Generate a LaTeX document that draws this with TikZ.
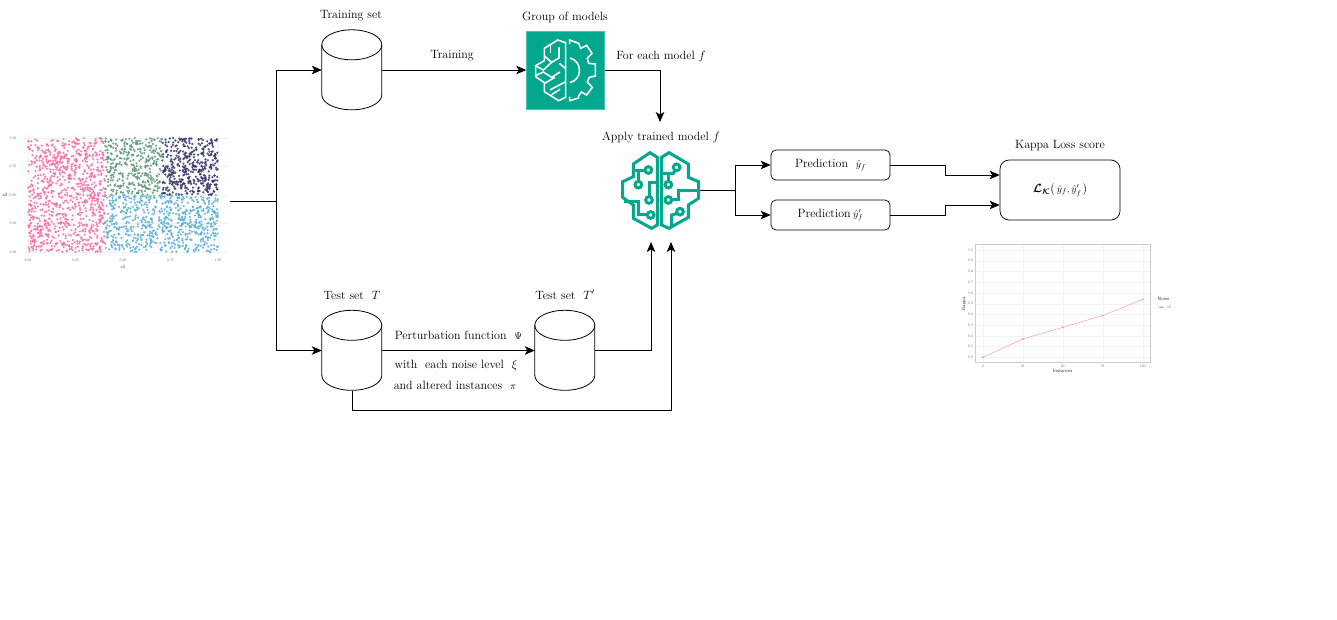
\documentclass[tikz,border=0pt]{standalone}
\usepackage{amsmath,amssymb}
\usetikzlibrary{arrows.meta,calc}
\definecolor{awsgreen}{HTML}{01A88D}
\definecolor{spink}{HTML}{F96FA8}
\definecolor{sgreen}{HTML}{5F9B7A}
\definecolor{snavy}{HTML}{34356A}
\definecolor{sblue}{HTML}{5DB0D6}
\definecolor{gridc}{HTML}{F2F2F2}
\definecolor{tickc}{HTML}{777777}
\definecolor{salmon}{HTML}{F8A199}
\newcommand{\smallm}[1]{{\fontsize{9.6}{11}\selectfont$#1$}}
\tikzset{
  lbl/.style={font=\fontsize{12}{14}\selectfont,inner sep=0pt},
  conn/.style={line width=0.8pt,-{Stealth[length=10pt,width=8.5pt,inset=2.5pt]}},
  plainconn/.style={line width=0.8pt},
  cylbox/.style={rectangle,minimum width=60pt,minimum height=80pt,inner sep=0pt},
  ghost/.style={rectangle,inner sep=0pt},
  rbox/.style={draw,rounded corners=5pt,line width=0.7pt,inner sep=0pt,font=\fontsize{12}{14}\selectfont},
  tick/.style={font=\sffamily\fontsize{3.6}{4}\selectfont,text=tickc,inner sep=0pt},
  axt/.style={font=\sffamily\fontsize{4.8}{5}\selectfont,text=black!75,inner sep=0pt},
  brainw/.style={draw=white,line width=1.6pt,line join=miter},
  braint/.style={draw=awsgreen,line width=3pt,line join=miter},
}
\newcommand{\cylbody}[1]{%
  \draw[line width=0.8pt,fill=white] (#1.north west) ++(0,15) arc[start angle=180,end angle=360,x radius=30,y radius=15] -- ++(0,50) arc[start angle=0,end angle=180,x radius=30,y radius=15] -- cycle;
  \draw[line width=0.8pt] (#1.north west) ++(0,15) arc[start angle=180,end angle=0,x radius=30,y radius=15];}
\begin{document}
\begin{tikzpicture}[x=1pt,y=-1pt]
\useasboundingbox[fill=white] (0,0) rectangle (1337,619);
% ---------- scatter plot
\foreach \g in {138,166.5,195,223.5,252} \draw[gridc,line width=0.3pt] (22,\g) -- (228,\g);
\foreach \g in {28,75.5,123,170.5,218} \draw[gridc,line width=0.3pt] (\g,134) -- (\g,256);
\pgfmathsetseed{4711}
\foreach \i in {1,...,2400}{
  \pgfmathsetmacro{\rx}{rnd}
  \pgfmathsetmacro{\ry}{rnd}
  \pgfmathparse{\rx<0.405?1:(\ry<0.5?2:(\rx<0.705?3:4))}
  \pgfmathtruncatemacro{\cls}{\pgfmathresult}
  \ifcase\cls\or\def\cc{spink}\or\def\cc{sblue}\or\def\cc{sgreen}\or\def\cc{snavy}\fi
  \fill[\cc,opacity=0.85] ({28+190*\rx},{252-114*\ry}) circle[radius=1.25];
}
\foreach \v/\g in {1.00/138,0.75/166.5,0.50/195,0.25/223.5,0.00/252} \node[tick] at (13,\g) {\v};
\foreach \v/\g in {0.00/28,0.25/75.5,0.50/123,0.75/170.5,1.00/218} \node[tick] at (\g,260) {\v};
\node[axt] at (123,267) {x1};
\node[axt] at (5,195) {x2};
\node[ghost,minimum width=226pt,minimum height=134pt] (scatter) at (117,201) {};
% ---------- nodes
\node[cylbox] (train) at (352,70) {};
\node[cylbox] (testT) at (352,350.5) {};
\node[cylbox] (testP) at (565,350.5) {};
\node[ghost,fill=awsgreen,draw=awsgreen!70!white,line width=0.5pt,minimum width=78pt,minimum height=78pt] (models) at (565.5,70) {};
\node[ghost,minimum width=76pt,minimum height=76pt] (applied) at (660,190) {};
\node[rbox,minimum width=119pt,minimum height=30pt] (pred1) at (830.5,165) {\raisebox{-1.5pt}{Prediction\ \ \smallm{\hat y_f}}\hspace{2pt}};
\node[rbox,minimum width=119pt,minimum height=30pt] (pred2) at (830.5,215) {\raisebox{-1pt}{Prediction\hspace{2.5pt}\smallm{\hat y'_f}}\hspace{5pt}};
\node[rbox,rounded corners=9pt,minimum width=120pt,minimum height=60pt] (loss) at (1060,190) {$\boldsymbol{\mathcal{L}}_{\boldsymbol{\mathcal{K}}}($\hspace{2pt}\smallm{\hat y_f,\hat y'_f}\hspace{1pt}$)$};
\cylbody{train}
\cylbody{testT}
\cylbody{testP}
% ---------- labels
\node[lbl] (l1) at (351,16) {Training set};
\node[lbl] (l2) at (565,17) {Group of models};
\node[lbl] (l3) at (452,56) {Training};
\node[lbl] (l4) at (661,56) {For each model $f$};
\node[lbl] (l5) at (661,137) {Apply trained model $f$};
\node[lbl] (l6) at (1060,146) {Kappa Loss score};
\node[lbl] (l7) at (352,295) {Test set\ \ $T$};
\node[lbl] (l8) at (565,295) {Test set\ \ $T'$};
\node[lbl] (l9) at (458.5,335) {Perturbation function\ \ \smallm{\Psi}};
\node[lbl] (l10) at (456,365) {with\ \ each noise level\ \ $\xi$};
\node[lbl] (l11) at (455,385) {and altered instances\ \ \smallm{\pi}};
% ---------- connectors
\coordinate (split) at (276,201);
\coordinate (into) at (660,122);
\coordinate (inA) at (651,242);
\coordinate (inB) at (671,242);
\coordinate (fork) at (735,190);
\coordinate (under) at (352,410);
\draw[plainconn] (scatter.east) -- (split);
\draw[conn] (split) |- (train.west);
\draw[conn] (split) |- (testT.west);
\draw[conn] (train.east) -- (models.west);
\draw[conn] (models.east) -| (into);
\draw[conn] (testT.east) -- (testP.west);
\draw[conn] (testP.east) -| (inA);
\draw[conn] (testT.south) -- (under) -| (inB);
\draw[plainconn] (applied.east) -- (fork);
\draw[conn] (fork) |- (pred1.west);
\draw[conn] (fork) |- (pred2.west);
\draw[conn] (pred1.east) -- ++(55,0) |- ($(loss.west)+(0,-15)$);
\draw[conn] (pred2.east) -- ++(55,0) |- ($(loss.west)+(0,15)$);
% ---------- brain + gear icon
\begin{scope}[shift={(510,20)},x=0.3333pt,y=-0.3333pt]
\draw[brainw] (167,68) -- (143,60) -- (103,85) -- (103,122) -- (77,137) -- (77,170) -- (103,188) -- (103,215) -- (146,242) -- (167,232) -- cycle;
\draw[brainw] (122,76) -- (122,100);
\draw[brainw] (147,82) -- (147,114) -- (125,127) -- (103,108);
\draw[brainw] (78,138) -- (100,150) -- (125,127);
\draw[brainw] (78,166) -- (100,156) -- (125,172) -- (150,156);
\draw[brainw] (148,130) -- (167,146);
\draw[brainw] (104,190) -- (135,172);
\draw[brainw] (120,210) -- (167,185);
\draw[brainw] (125,224) -- (150,208);
\draw[brainw] (179,72) -- (179,60) -- (206,70) -- (212,85) -- (230,76) -- (246,100) -- (232,115) -- (236,130) -- (256,132) -- (256,168) -- (238,172) -- (232,186) -- (247,202) -- (230,225) -- (214,216) -- (206,228) -- (206,234) -- (179,242) -- (179,230);
\draw[brainw] (180,114) .. controls (218,124) and (218,178) .. (180,188);
\end{scope}
% ---------- circuit brain icon
\begin{scope}[shift={(600,140)},x=0.3333pt,y=-0.3333pt]
\draw[braint] (172,52) -- (150,38) -- (100,72) -- (100,110) -- (68,125) -- (68,172) -- (100,195) -- (100,235) -- (155,265) -- (172,255) -- cycle;
\draw[braint] (185,52) -- (207,38) -- (265,72) -- (265,112) -- (296,125) -- (296,175) -- (265,195) -- (265,232) -- (207,265) -- (185,255) -- cycle;
\draw[braint] (100,90) -- (133,90);
\draw[braint] (145,90) circle[radius=10];
\draw[braint] (115,90) -- (115,123);
\draw[braint] (115,134) circle[radius=10];
\draw[braint] (172,128) -- (147,128) -- (147,169);
\draw[braint] (147,180) circle[radius=10];
\draw[braint] (72,185) -- (115,185) -- (115,225) -- (141,225);
\draw[braint] (152,225) circle[radius=10];
\draw[braint] (185,100) -- (220,100) -- (224,93);
\draw[braint] (230,82) circle[radius=10];
\draw[braint] (205,100) -- (205,123);
\draw[braint] (205,134) circle[radius=10];
\draw[braint] (205,180) circle[radius=10];
\draw[braint] (216,180) -- (235,180) -- (235,150) -- (296,150);
\draw[braint] (240,215) circle[radius=10];
\draw[braint] (230,221) -- (215,225) -- (215,258);
\end{scope}
% ---------- kappa plot
\fill[white] (975.7,244) rectangle (1150,362);
\foreach \k in {0,...,10}{
  \draw[gridc,line width=0.3pt] (975.7,{357.3-10.73*\k}) -- (1150,{357.3-10.73*\k});
}
\foreach \k in {0,...,4}{
  \draw[gridc,line width=0.3pt] ({982.7+40*\k},244) -- ({982.7+40*\k},362);
}
\draw[black!20,line width=0.6pt] (975.7,244) rectangle (1150,362);
\foreach \k/\v in {0/0.0,1/0.1,2/0.2,3/0.3,4/0.4,5/0.5,6/0.6,7/0.7,8/0.8,9/0.9,10/1.0}
  \node[tick] at (970.5,{357.3-10.73*\k}) {\v};
\foreach \k/\v in {0/0,1/25,2/50,3/75,4/100}
  \node[tick] at ({982.7+40*\k},366.5) {\v};
\draw[salmon,line width=0.5pt] (982.7,357.3) -- (1022.7,339) -- (1062.7,327.3) -- (1102.7,315.5) -- (1142.7,299.4);
\foreach \px/\py in {982.7/357.3,1022.7/339,1062.7/327.3,1102.7/315.5,1142.7/299.4}
  \fill[salmon] (\px,\py) circle[radius=1.1];
\node[axt] at (1062.7,371) {Instances};
\node[axt,rotate=90] at (964,304) {Kappa};
\node[axt,anchor=west] at (1157.5,299) {Noise};
\draw[salmon,line width=0.5pt] (1158.5,307) -- (1164,307);
\fill[salmon] (1161.2,307) circle[radius=1.1];
\node[tick,anchor=west] at (1167,307) {10};
\end{tikzpicture}
\end{document}
